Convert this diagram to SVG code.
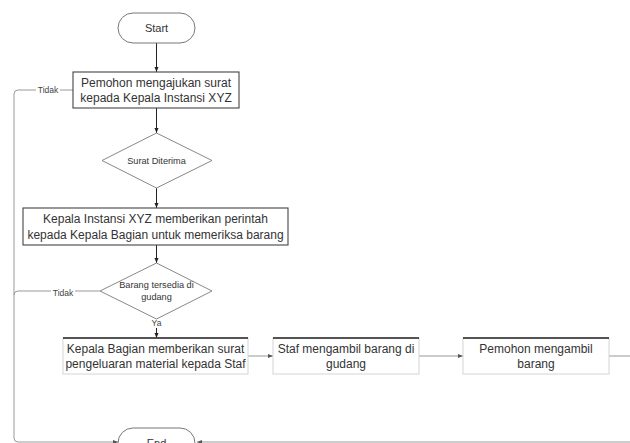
<svg xmlns="http://www.w3.org/2000/svg" width="630" height="443" viewBox="0 0 630 443">
  <style>
    .txt { font-family: "Liberation Sans", Arial, sans-serif; fill: #333; text-anchor: middle; }
    .big { font-size: 12px; }
    .small { font-size: 9.2px; }
    .term { fill: #fff; stroke: #777; stroke-width: 1; }
    .proc { fill: #fff; stroke: #444; stroke-width: 1.1; }
    .proc-soft { fill: #fff; stroke: #d4d4d4; stroke-width: 1; }
    .proc-top { stroke: #222; stroke-width: 1.4; }
    .dec { fill: #fff; stroke: #888; stroke-width: 1; }
    .edge { fill: none; stroke: #222; stroke-width: 1; }
    .edge-soft { fill: none; stroke: #999; stroke-width: 1; }
    .lbl { font-family: "Liberation Sans", Arial, sans-serif; font-size: 8.5px; fill: #444; text-anchor: middle; }
    .lblbg { fill: #fff; }
  </style>
  <defs>
    <marker id="arrow" viewBox="0 0 10 10" refX="10" refY="5" markerWidth="5" markerHeight="5" orient="auto">
      <path d="M0,1 L10,5 L0,9 z" fill="#222"/>
    </marker>
    <marker id="arrow-soft" viewBox="0 0 10 10" refX="10" refY="5" markerWidth="5" markerHeight="5" orient="auto">
      <path d="M0,1 L10,5 L0,9 z" fill="#555"/>
    </marker>
  </defs>
  <rect width="630" height="443" fill="#fff"/>

  <!-- connectors -->
  <g id="connectors">
    <path class="edge" d="M156.5,43 V72" marker-end="url(#arrow)"/>
    <path class="edge" d="M156.5,108 V133" marker-end="url(#arrow)"/>
    <path class="edge" d="M156.5,188 V208" marker-end="url(#arrow)"/>
    <path class="edge" d="M156.5,245 V263" marker-end="url(#arrow)"/>
    <path class="edge" d="M156.5,319 V338" marker-end="url(#arrow)"/>
    <path class="edge-soft" d="M248,356 H273" marker-end="url(#arrow-soft)"/>
    <path class="edge-soft" d="M419,356 H463" marker-end="url(#arrow-soft)"/>
    <path class="edge-soft" d="M609,356 H630"/>
    <!-- "Tidak" return path along the left side down to End -->
    <path class="edge-soft" d="M73,90 H18 Q14,90 14,94 V438 Q14,442 18,442 H118" marker-end="url(#arrow-soft)"/>
    <path class="edge-soft" d="M100,291 H18 Q14,291 14,295"/>
    <path class="edge-soft" d="M630,442 H197" marker-end="url(#arrow-soft)"/>
    <!-- edge labels -->
    <rect class="lblbg" x="36" y="85" width="24" height="10"/>
    <text class="lbl" x="48" y="93">Tidak</text>
    <rect class="lblbg" x="51" y="286" width="24" height="10"/>
    <text class="lbl" x="63" y="296">Tidak</text>
    <rect class="lblbg" x="150" y="319" width="13" height="9"/>
    <text class="lbl" x="156.5" y="326">Ya</text>
  </g>

  <g id="start">
    <rect class="term" x="118" y="13" width="77" height="30" rx="15" ry="15"/>
    <text class="txt" x="156.5" y="32" font-size="11">Start</text>
  </g>

  <g id="ajukan-surat">
    <rect class="proc" x="73" y="72" width="166" height="36"/>
    <text class="txt big" x="156" y="87">Pemohon mengajukan surat</text>
    <text class="txt big" x="156" y="102">kepada Kepala Instansi XYZ</text>
  </g>

  <g id="surat-diterima">
    <polygon class="dec" points="156.5,133 212,160.5 156.5,188 102,160.5"/>
    <text class="txt small" x="156.5" y="164">Surat Diterima</text>
  </g>

  <g id="perintah-periksa">
    <rect class="proc" x="23" y="208" width="265" height="37"/>
    <text class="txt big" x="155.5" y="223">Kepala Instansi XYZ memberikan perintah</text>
    <text class="txt big" x="155.5" y="239">kepada Kepala Bagian untuk memeriksa barang</text>
  </g>

  <g id="barang-tersedia">
    <polygon class="dec" points="156.5,263 212,291 156.5,319 100,291"/>
    <text class="txt small" x="156.5" y="288">Barang tersedia di</text>
    <text class="txt small" x="156.5" y="300">gudang</text>
  </g>

  <g id="surat-pengeluaran">
    <rect class="proc-soft" x="63" y="338" width="185" height="36"/>
    <line class="proc-top" x1="63" y1="338" x2="248" y2="338"/>
    <text class="txt big" x="155.5" y="353">Kepala Bagian memberikan surat</text>
    <text class="txt big" x="155.5" y="368">pengeluaran material kepada Staf</text>
  </g>

  <g id="staf-ambil">
    <rect class="proc-soft" x="273" y="338" width="146" height="36"/>
    <line class="proc-top" x1="273" y1="338" x2="419" y2="338"/>
    <text class="txt big" x="346" y="353">Staf mengambil barang di</text>
    <text class="txt big" x="346" y="368">gudang</text>
  </g>

  <g id="pemohon-ambil">
    <rect class="proc-soft" x="463" y="338" width="146" height="36"/>
    <line class="proc-top" x1="463" y1="338" x2="609" y2="338"/>
    <text class="txt big" x="536" y="353">Pemohon mengambil</text>
    <text class="txt big" x="536" y="368">barang</text>
  </g>

  <g id="end">
    <rect class="term" x="118" y="428" width="77" height="30" rx="15" ry="15"/>
    <text class="txt" x="156.5" y="447" font-size="11">End</text>
  </g>
</svg>
